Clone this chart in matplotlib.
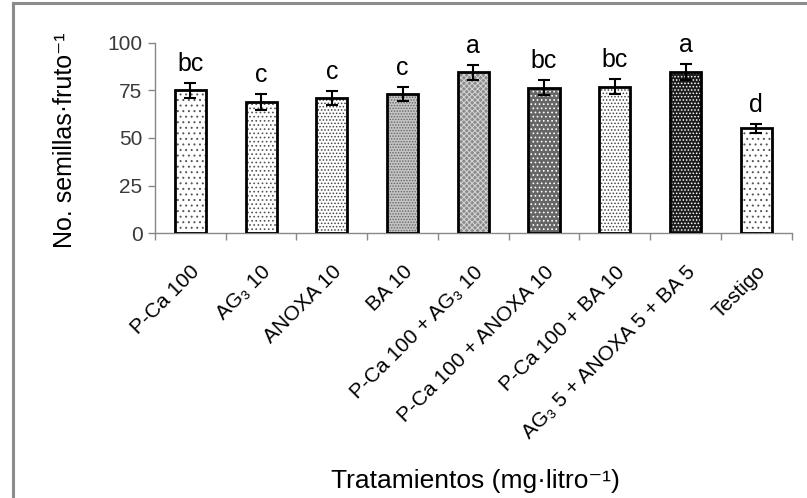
import numpy as np
import matplotlib
matplotlib.use('Agg')
import matplotlib.pyplot as plt
from matplotlib.patches import Rectangle

plt.rcParams['font.family'] = ['Liberation Sans', 'DejaVu Sans']
plt.rcParams['hatch.linewidth'] = 0.7

# data
tratamientos = ['P-Ca 100', 'AG₃ 10', 'ANOXA 10', 'BA 10', 'P-Ca 100 + AG₃ 10',
                'P-Ca 100 + ANOXA 10', 'P-Ca 100 + BA 10',
                'AG₃ 5 + ANOXA 5 + BA 5', 'Testigo']
semillas = [75.0, 68.9, 71.0, 73.0, 84.5, 76.5, 77.0, 84.5, 55.0]
error = [3.9, 4.0, 3.9, 3.8, 3.9, 4.0, 4.0, 4.2, 2.5]
letras = ['bc', 'c', 'c', 'c', 'a', 'bc', 'bc', 'a', 'd']

# fill style per bar: (face, hatch colour, hatch)
estilos = [
    ('white', '#555555', '...'),
    ('white', '#555555', '....'),
    ('white', '#444444', '.....'),
    ('#c4c4c4', '#666666', '......'),
    ('#8c8c8c', '#d6d6d6', 'xxxxxx'),
    ('#666666', 'white', '....'),
    ('white', '#444444', '.....'),
    ('#1c1c1c', 'white', '.....'),
    ('white', '#555555', '...'),
]

fig = plt.figure(figsize=(8.07, 4.98), dpi=100)
ax = fig.add_axes([0.192, 0.532, 0.789, 0.382])

x = np.arange(len(tratamientos))
for i in range(len(x)):
    face, hcol, hatch = estilos[i]
    ax.bar(x[i], semillas[i], width=0.44, color=face, edgecolor=hcol,
           hatch=hatch, linewidth=0, zorder=2)
ax.bar(x, semillas, width=0.44, color='none', edgecolor='black',
       linewidth=2.0, zorder=3)
ax.errorbar(x, semillas, yerr=error, fmt='none', ecolor='black',
            elinewidth=1.5, capsize=4.5, capthick=1.5, zorder=4)

for i in range(len(x)):
    ax.annotate(letras[i], (x[i], semillas[i] + error[i]),
                xytext=(0, 5), textcoords='offset points',
                ha='center', va='bottom', fontsize=18)

ax.set_xlim(-0.5, len(x) - 0.5)
ax.set_ylim(0, 100)
ax.set_yticks([0, 25, 50, 75, 100])
ax.tick_params(axis='y', labelsize=15, labelcolor='#3a3a3a', color='#888888',
               length=5, width=1, pad=4)

ax.set_xticks(x)
ax.set_xticklabels(tratamientos, rotation=45, ha='right',
                   rotation_mode='anchor', fontsize=15)
ax.tick_params(axis='x', length=0, pad=21)
ax.set_xticks(np.arange(-0.5, len(x)), minor=True)
ax.tick_params(axis='x', which='minor', length=5, color='#888888', width=1)

for s in ['top', 'right']:
    ax.spines[s].set_visible(False)
for s in ['left', 'bottom']:
    ax.spines[s].set_color('#888888')
    ax.spines[s].set_linewidth(1)

ax.set_ylabel('No. semillas·fruto⁻¹', fontsize=18)
ax.yaxis.set_label_coords(-0.122, 0.487)
fig.text(0.589, 0.01, 'Tratamientos (mg·litro⁻¹)', ha='center',
         va='bottom', fontsize=19)

# grey frame of the chart area
fig.patches.append(Rectangle((13 / 807, -0.1), 1.2, 1.1 - 3 / 498,
                             transform=fig.transFigure, fill=False,
                             edgecolor='#8c8c8c', linewidth=2.2))

fig.savefig('out.png', dpi=100)
